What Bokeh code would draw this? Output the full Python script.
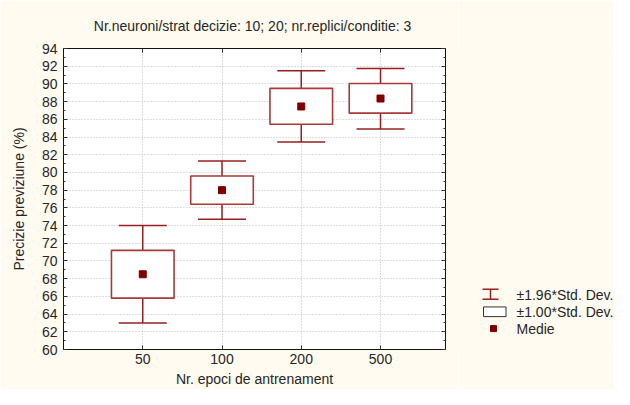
from bokeh.plotting import figure
from bokeh.models import Range1d, FixedTicker, LinearAxis, Title, ColumnDataSource
from bokeh.layouts import row
from bokeh.embed import file_html
from bokeh.resources import INLINE
from bokeh.core.properties import value

# ---- data ----
cats = ["50", "100", "200", "500"]
means = [68.5, 78.0, 87.45, 88.35]
box_lo = [65.8, 76.4, 85.45, 86.7]     # mean - 1.00*SD
box_hi = [71.2, 79.6, 89.5, 90.05]     # mean + 1.00*SD
wh_lo = [63.0, 74.7, 83.45, 84.9]      # mean - 1.96*SD
wh_hi = [74.0, 81.3, 91.5, 91.75]      # mean + 1.96*SD
yticks = list(range(60, 95, 2))

title_text = "Nr.neuroni/strat decizie: 10; 20;  nr.replici/conditie: 3"
xlabel = "Nr. epoci de antrenament"
ylabel = "Precizie previziune (%)"
legend_labels = ["\u00b11.96*Std. Dev.", "\u00b11.00*Std. Dev.", "Medie"]

FONT = "Liberation Sans"
FS = "14px"
TXT = "#262626"
CREAM = "#FFFBF0"
BOXC = "#A83A3A"
WHC = "#962020"
MEANC = "#800000"

xs = list(range(1, len(cats) + 1))
src = ColumnDataSource(dict(x=xs, mean=means, blo=box_lo, bhi=box_hi,
                            wlo=wh_lo, whi=wh_hi))

p = figure(width=458, height=389, x_range=Range1d(0, 4.82), y_range=Range1d(60, 94),
           output_backend="svg", toolbar_location=None,
           min_border_left=63, min_border_right=13, min_border_top=43, min_border_bottom=38,
           x_axis_label=xlabel, y_axis_label=ylabel)
p.background_fill_color = "white"
p.border_fill_color = CREAM
p.outline_line_color = "#111111"
p.outline_line_width = 1

# frame ticks on top (added first so it sits next to the frame)
top = LinearAxis(ticker=FixedTicker(ticks=xs), major_label_text_font_size="0px",
                 major_label_standoff=0,
                 major_tick_in=4, major_tick_out=0, axis_line_color="#111111",
                 major_tick_line_color="#333333")
p.add_layout(top, "above")
p.add_layout(Title(text=title_text, align="center", text_font=FONT, text_font_size=FS,
                   text_font_style="normal", text_color=TXT, standoff=30), "above")

# axes
p.xaxis.ticker = FixedTicker(ticks=xs)
p.xaxis.major_label_overrides = {x: c for x, c in zip(xs, cats)}
p.yaxis.ticker = FixedTicker(ticks=yticks, minor_ticks=list(range(60, 95)))
for ax in (p.below[0], p.left[0]):
    ax.axis_line_color = "#111111"
    ax.major_tick_in = 4
    ax.major_tick_out = 0
    ax.minor_tick_in = 2
    ax.minor_tick_out = 0
    ax.major_tick_line_color = "#333333"
    ax.minor_tick_line_color = "#333333"
    ax.major_label_text_font = FONT
    ax.major_label_text_font_size = FS
    ax.major_label_text_color = TXT
    ax.axis_label_text_font = FONT
    ax.axis_label_text_font_size = FS
    ax.axis_label_text_font_style = "normal"
    ax.axis_label_text_color = TXT
p.below[0].major_label_standoff = 4
p.below[0].axis_label_standoff = 4
p.left[0].major_label_standoff = 6
p.left[0].axis_label_standoff = 12

right = LinearAxis(ticker=FixedTicker(ticks=yticks, minor_ticks=list(range(60, 95))),
                   major_label_text_font_size="0px", major_label_standoff=0,
                   major_tick_in=4, major_tick_out=0, minor_tick_in=2, minor_tick_out=0,
                   axis_line_color="#111111", major_tick_line_color="#333333",
                   minor_tick_line_color="#333333")
p.add_layout(right, "right")

# grid
p.xgrid.ticker = FixedTicker(ticks=xs)
p.ygrid.ticker = FixedTicker(ticks=yticks)
for g in (p.xgrid[0], p.ygrid[0]):
    g.grid_line_color = "#BDBDBD"
    g.grid_line_dash = "1 2"
    g.grid_line_width = 1

# whisker stems (covered in the middle by the boxes)
p.segment(x0="x", y0="wlo", x1="x", y1="whi", source=src, line_color=WHC, line_width=1.5)
# caps
p.scatter(x="x", y="wlo", source=src, marker="dash", size=48, line_color=WHC, line_width=1.5)
p.scatter(x="x", y="whi", source=src, marker="dash", size=48, line_color=WHC, line_width=1.5)
# boxes
p.vbar(x="x", width=0.79, bottom="blo", top="bhi", source=src,
       fill_color="white", line_color=BOXC, line_width=1.6)
# means
p.scatter(x="x", y="mean", source=src, marker="square", size=7,
          fill_color=MEANC, line_color=MEANC)

# ---- legend panel ----
leg = figure(width=156, height=389, x_range=Range1d(0, 156), y_range=Range1d(389, 0),
             output_backend="svg", toolbar_location=None, min_border=0)
leg.axis.visible = False
leg.grid.visible = False
leg.outline_line_color = None
leg.background_fill_color = CREAM
leg.border_fill_color = CREAM

leg.segment(x0=[32, 24, 24], y0=[311, 311, 324], x1=[32, 40, 40], y1=[324, 311, 324],
            line_color=WHC, line_width=1.5)
leg.quad(left=[25], right=[47.5], top=[334], bottom=[346.5], fill_color="white",
         line_color="#333333", line_width=1)
leg.scatter(x=[35], y=[362], marker="square", size=6, fill_color=MEANC, line_color=MEANC)
leg.text(x=[58, 58, 58], y=[319, 340, 362], text=legend_labels, text_font=value(FONT),
         text_font_size=FS, text_color=TXT, text_baseline="middle", text_align="left")

layout = row(p, leg)
open("out.html", "w").write(file_html(layout, INLINE))
